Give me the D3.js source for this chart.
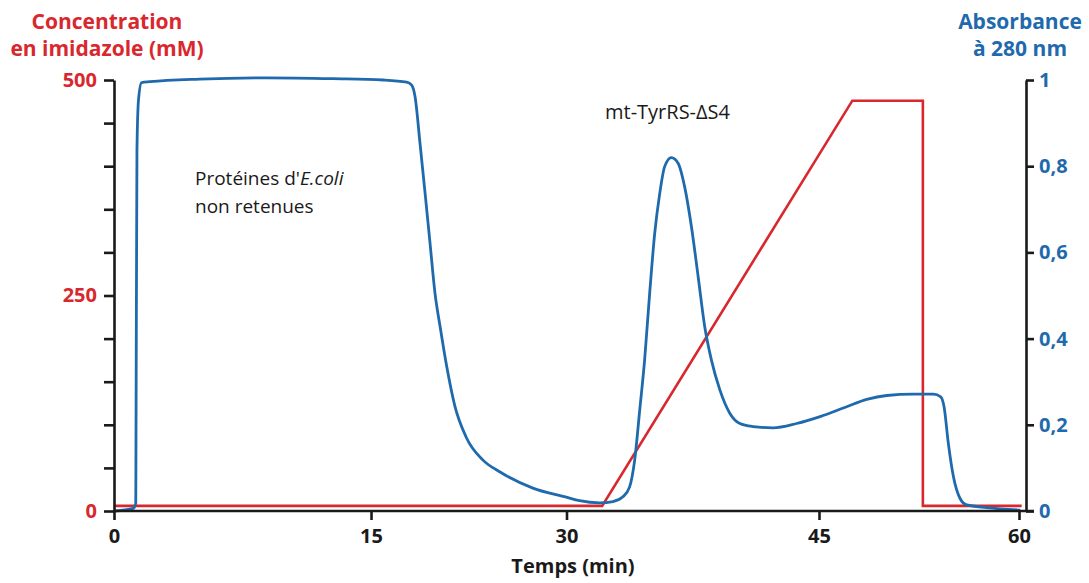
<!DOCTYPE html>
<html>
<head>
<meta charset="utf-8">
<script src="https://cdn.jsdelivr.net/npm/d3@7"></script>
<style>
  body { margin: 0; background: #fff; }
  svg text { font-family: "Open Sans", "Noto Sans", sans-serif; }
</style>
</head>
<body>
<div id="chart"></div>
<script>
// time (min) / absorbance at 280 nm
var timeAbs = [0, 1.13, 1.27, 1.28, 1.34, 1.43, 1.61, 2.1, 5.0, 8.9, 12.8, 15.95, 17.74, 18.12,
  18.38, 18.76, 19.15, 19.53, 19.91, 20.3, 20.81, 21.42, 22.32, 23.59, 24.87, 27.42, 29.98, 30.77,
  31.96, 32.76, 33.35, 33.75, 34.05, 34.35, 34.64, 34.94, 35.24, 35.54, 35.83, 36.23, 36.63, 37.02,
  37.42, 37.82, 38.21, 38.61, 39.11, 39.7, 40.3, 41.09, 42.28, 43.67, 45.08, 47.07, 48.58, 50.08,
  52.08, 53.58, 54.13, 54.38, 54.7, 55.08, 55.58, 56.08, 57.58, 60.1];
var absorbance = [0, 0.006, 0.018, 0.118, 0.838, 0.954, 0.994, 0.996, 1.002, 1.005, 1.003, 1.0, 0.995, 0.988,
  0.961, 0.853, 0.737, 0.621, 0.505, 0.428, 0.335, 0.245, 0.17, 0.118, 0.091, 0.053, 0.032, 0.024,
  0.019, 0.022, 0.033, 0.056, 0.118, 0.234, 0.35, 0.505, 0.644, 0.737, 0.799, 0.82, 0.807, 0.752,
  0.66, 0.544, 0.428, 0.35, 0.281, 0.227, 0.203, 0.196, 0.193, 0.203, 0.219, 0.242, 0.259, 0.268,
  0.271, 0.271, 0.265, 0.242, 0.157, 0.08, 0.029, 0.014, 0.008, 0.002];

// imidazole gradient (mM)
var timeImid = [0, 32.12, 47.5, 52.79, 52.79, 60.2];
var imidazole = [6, 6, 476, 476, 6, 6];

var xTicks = [0, 15, 30, 45, 60];
var leftTicks = d3.range(0, 501, 50);
var leftLabels = [0, 250, 500];
var rightTicks = [0, 0.2, 0.4, 0.6, 0.8, 1];

var red = "#d9272e", blue = "#1f6aad";

var width = 1089, height = 583;
var margin = {top: 80, right: 63, bottom: 72, left: 114};
var w = width - margin.left - margin.right;   // right axis position
var h = height - margin.top - margin.bottom;

var svg = d3.select("#chart").append("svg")
    .attr("width", width).attr("height", height);
var g = svg.append("g").attr("transform", "translate(" + margin.left + "," + margin.top + ")");

// the printed time axis is not evenly spaced, follow its tick positions
var xEnd = w - 7;
var x = d3.scaleLinear()
    .domain(xTicks)
    .range([0, xEnd * 0.284, xEnd * 0.5, xEnd * 0.779, xEnd]);
var yL = d3.scaleLinear().domain([0, 500]).range([h, 0]);
var yR = d3.scaleLinear().domain([0, 1]).range([h, 0]);

// curves
var imidData = timeImid.map(function (t, i) { return {t: t, v: imidazole[i]}; });
var absData = timeAbs.map(function (t, i) { return {t: t, v: absorbance[i]}; });

g.append("path")
    .datum(imidData)
    .attr("fill", "none")
    .attr("stroke", red)
    .attr("stroke-width", 2.6)
    .attr("d", d3.line().x(function (d) { return x(d.t); }).y(function (d) { return yL(d.v); }));

g.append("path")
    .datum(absData)
    .attr("fill", "none")
    .attr("stroke", blue)
    .attr("stroke-width", 2.8)
    .attr("stroke-linejoin", "round")
    .attr("d", d3.line().curve(d3.curveMonotoneX)
        .x(function (d) { return x(d.t); }).y(function (d) { return yR(d.v); }));

// axes
var leftAxis = g.append("g")
    .call(d3.axisLeft(yL).tickValues(leftTicks).tickSize(10).tickSizeOuter(0).tickPadding(7)
        .tickFormat(function (d) { return leftLabels.indexOf(d) >= 0 ? d : ""; }));
leftAxis.selectAll("text").attr("fill", red).style("font-size", "20px").style("font-weight", 700);

var rightAxis = g.append("g")
    .attr("transform", "translate(" + w + ",0)")
    .call(d3.axisRight(yR).tickValues(rightTicks).tickSize(8).tickSizeOuter(0).tickPadding(5)
        .tickFormat(function (d) { return String(d).replace(".", ","); }));
rightAxis.selectAll("text").attr("fill", blue).style("font-size", "20px").style("font-weight", 700);

var bottomAxis = g.append("g")
    .attr("transform", "translate(0," + h + ")")
    .call(d3.axisBottom(x).tickValues(xTicks).tickSize(9).tickSizeOuter(0).tickPadding(9));
bottomAxis.select(".domain").remove();
bottomAxis.selectAll("text").attr("fill", "#1a1a1a").style("font-size", "20px").style("font-weight", 700);
g.append("line")
    .attr("x1", 0).attr("x2", w + 8)
    .attr("y1", h).attr("y2", h)
    .attr("stroke", "#1a1a1a").attr("stroke-width", 2.6);

g.selectAll(".domain, .tick line").attr("stroke", "#1a1a1a").attr("stroke-width", 2.6);

// titles
svg.append("text").attr("x", 107).attr("y", 29).attr("text-anchor", "middle")
    .attr("fill", red).style("font-size", "21px").style("font-weight", 700).text("Concentration");
svg.append("text").attr("x", 107).attr("y", 56).attr("text-anchor", "middle")
    .attr("fill", red).style("font-size", "21px").style("font-weight", 700).text("en imidazole (mM)");
svg.append("text").attr("x", 1020).attr("y", 29).attr("text-anchor", "middle")
    .attr("fill", blue).style("font-size", "21px").style("font-weight", 700).text("Absorbance");
svg.append("text").attr("x", 1020).attr("y", 56).attr("text-anchor", "middle")
    .attr("fill", blue).style("font-size", "21px").style("font-weight", 700).text("à 280 nm");
svg.append("text").attr("x", 573).attr("y", 573).attr("text-anchor", "middle")
    .attr("fill", "#1a1a1a").style("font-size", "20px").style("font-weight", 700).text("Temps (min)");

// annotations
var note = svg.append("text").attr("x", 195).attr("y", 185)
    .attr("fill", "#1a1a1a").style("font-size", "19px");
note.append("tspan").text("Protéines d'");
note.append("tspan").style("font-style", "italic").text("E.coli");
svg.append("text").attr("x", 195).attr("y", 213)
    .attr("fill", "#1a1a1a").style("font-size", "19px").text("non retenues");
svg.append("text").attr("x", 605).attr("y", 119)
    .attr("fill", "#1a1a1a").style("font-size", "20px").text("mt-TyrRS-ΔS4");
</script>
</body>
</html>
